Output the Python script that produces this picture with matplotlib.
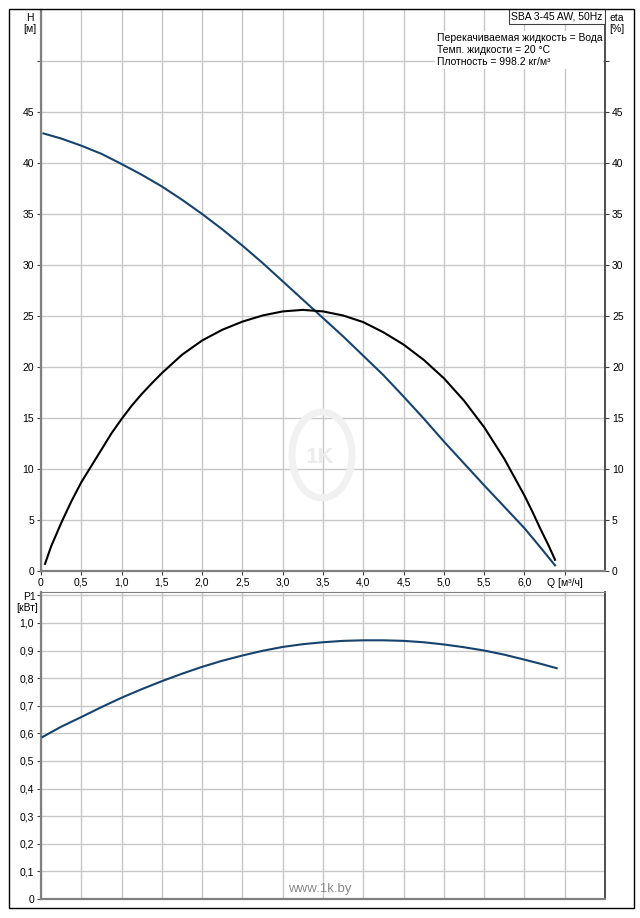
import numpy as np
import matplotlib
matplotlib.use("Agg")
import matplotlib.pyplot as plt
from matplotlib.patches import Rectangle, Circle

plt.rcParams['font.family'] = ['Liberation Sans', 'DejaVu Sans']

# pump curves
q_h = [0.03, 0.25, 0.5, 0.75, 1.0, 1.25, 1.5, 1.75, 2.0, 2.25, 2.5, 2.75, 3.0, 3.25,
       3.5, 3.75, 4.0, 4.25, 4.5, 4.75, 5.0, 5.25, 5.5, 5.75, 6.0, 6.2, 6.38]
head = [42.9, 42.4, 41.7, 40.9, 39.9, 38.85, 37.7, 36.4, 35.0, 33.5, 31.9, 30.2, 28.4, 26.6,
        24.8, 23.0, 21.1, 19.2, 17.1, 14.95, 12.7, 10.55, 8.4, 6.3, 4.2, 2.3, 0.55]

q_eta = [0.05, 0.125, 0.25, 0.375, 0.5, 0.625, 0.75, 0.875, 1.0, 1.125, 1.25, 1.375, 1.5,
         1.75, 2.0, 2.25, 2.5, 2.75, 3.0, 3.25, 3.5, 3.75, 4.0, 4.25, 4.5, 4.75, 5.0,
         5.25, 5.5, 5.75, 6.0, 6.1, 6.2, 6.3, 6.38]
eta = [0.7, 2.4, 4.7, 6.8, 8.7, 10.3, 11.9, 13.5, 14.9, 16.2, 17.35, 18.4, 19.4,
       21.2, 22.6, 23.65, 24.45, 25.05, 25.45, 25.6, 25.45, 25.05, 24.4, 23.4, 22.2, 20.7, 18.9,
       16.7, 14.1, 11.0, 7.4, 5.8, 4.1, 2.5, 1.1]

q_p = [0.02, 0.25, 0.5, 0.75, 1.0, 1.25, 1.5, 1.75, 2.0, 2.25, 2.5, 2.75, 3.0, 3.25,
       3.5, 3.75, 4.0, 4.25, 4.5, 4.75, 5.0, 5.25, 5.5, 5.75, 6.0, 6.2, 6.4]
p1 = [0.587, 0.624, 0.659, 0.695, 0.729, 0.760, 0.789, 0.816, 0.841, 0.863, 0.882, 0.899, 0.913, 0.923,
      0.930, 0.935, 0.937, 0.937, 0.935, 0.930, 0.922, 0.912, 0.900, 0.885, 0.867, 0.852, 0.836]

x_ticks = [0, 0.5, 1.0, 1.5, 2.0, 2.5, 3.0, 3.5, 4.0, 4.5, 5.0, 5.5, 6.0]
x_labels = ["0", "0,5", "1,0", "1,5", "2,0", "2,5", "3,0", "3,5", "4,0", "4,5", "5,0", "5,5", "6,0"]
h_ticks = [0, 5, 10, 15, 20, 25, 30, 35, 40, 45]
p_ticks = [0, 0.1, 0.2, 0.3, 0.4, 0.5, 0.6, 0.7, 0.8, 0.9, 1.0]
p_labels = ["0", "0,1", "0,2", "0,3", "0,4", "0,5", "0,6", "0,7", "0,8", "0,9", "1,0"]

W, H = 640, 918
fig = plt.figure(figsize=(W / 100, H / 100), dpi=100)


def fx(px):
    return px / W


def fy(py):
    return 1 - py / H


GRID = "#c8c8c8"
SPINE = "#808080"
FS = 7.5
blue = "#16436e"

ax = fig.add_axes([fx(41), fy(571), fx(605) - fx(41), fy(10) - fy(571)])
ax2 = fig.add_axes([fx(41), fy(899), fx(605) - fx(41), fy(592) - fy(899)])

for a in (ax, ax2):
    a.set_xlim(0, 7.0)
    a.set_axisbelow(True)
    a.set_xticks(x_ticks + [6.5])
    a.grid(True, color=GRID, lw=1)
    for s in ("left", "bottom"):
        a.spines[s].set_color(SPINE)
        a.spines[s].set_linewidth(1.6)
    a.spines["right"].set_color("#404040")
    a.spines["right"].set_linewidth(1.3)
    a.tick_params(length=3, width=0.8, color="#404040", labelsize=FS, pad=2)

# top chart: head and efficiency
ax.set_ylim(0, 55)
ax.set_yticks(h_ticks + [50])
ax.set_yticklabels([str(v) for v in h_ticks] + [""])
ax.set_xticklabels(x_labels + ["Q [м³/ч]"])
ax.spines["top"].set_visible(False)
ax.tick_params(axis="y", right=True, labelright=True)

ax.plot(q_h, head, color=blue, lw=1.5, zorder=3)
ax.plot(q_eta, eta, color="black", lw=1.5, zorder=3)

# watermark
ax.add_patch(Circle((322 / W, fy(455)), 30 / W, transform=fig.transFigure,
                    fill=False, ec="#f1f1f1", lw=5, zorder=1))
fig.text(fx(320), fy(458), "1K", fontsize=16, fontweight="bold", color="#ececec",
         ha="center", va="center", zorder=1)

# info texts
ax.text(0.996, 0.998, "SBA 3-45 AW, 50Hz", transform=ax.transAxes, ha="right", va="top",
        fontsize=FS, bbox=dict(boxstyle="square,pad=0.25", fc="white", ec="#404040", lw=0.8),
        zorder=4)
ax.add_patch(Rectangle((fx(435), fy(69)), fx(603) - fx(435), fy(31) - fy(69),
                       transform=fig.transFigure, fc="white", ec="none", zorder=1.5))
info = ["Перекачиваемая жидкость = Вода", "Темп. жидкости = 20 °C", "Плотность = 998.2 кг/м³"]
for i, line in enumerate(info):
    fig.text(fx(437), fy(38 + 12 * i), line, fontsize=FS, ha="left", va="center", zorder=4)

fig.text(fx(30), fy(18), "H", fontsize=FS, ha="center", va="center")
fig.text(fx(30), fy(29), "[м]", fontsize=FS, ha="center", va="center")
fig.text(fx(617), fy(18), "eta", fontsize=FS, ha="center", va="center")
fig.text(fx(617), fy(29), "[%]", fontsize=FS, ha="center", va="center")

# bottom chart: power
ax2.set_ylim(0, 1.112)
ax2.set_yticks(p_ticks + [1.1])
ax2.set_yticklabels(p_labels + [""])
ax2.tick_params(axis="x", labelbottom=False, length=0)
ax2.spines["top"].set_color(SPINE)
ax2.plot(q_p, p1, color=blue, lw=1.5, zorder=3)

fig.text(fx(30), fy(597), "P1", fontsize=FS, ha="center", va="center")
fig.text(fx(27), fy(608), "[кВт]", fontsize=FS, ha="center", va="center")
fig.text(fx(320), fy(889), "www.1k.by", fontsize=9.5, color="#8a8a8a", ha="center", va="center")

# outer frame
fig.patches.append(Rectangle((fx(9), fy(908)), fx(634) - fx(9), fy(9) - fy(908),
                             transform=fig.transFigure, fill=False, ec="black", lw=1))

fig.savefig("out.png", dpi=100)
